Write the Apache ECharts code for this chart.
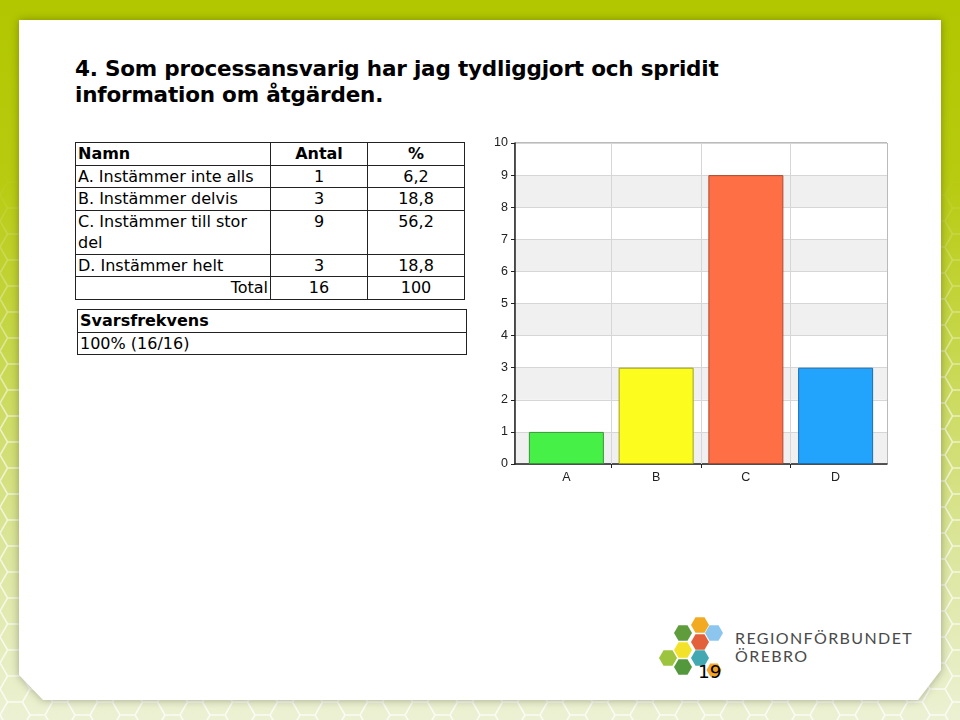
<!DOCTYPE html>
<html><head><meta charset="utf-8">
<script src="https://cdn.jsdelivr.net/npm/echarts@6/dist/echarts.min.js"></script>
<style>
html,body{margin:0;padding:0;width:960px;height:720px;overflow:hidden;}
#bg{position:absolute;left:0;top:0;width:960px;height:720px;
 background:linear-gradient(180deg,#b2c700 0%,#b8cb10 25%,#c8d850 50%,#dbe598 75%,#ecf1d4 100%);}
#pat{position:absolute;left:0;top:0;width:960px;height:720px;
 background:url("data:image/svg+xml;utf8,<svg xmlns='http://www.w3.org/2000/svg' width='45' height='26'><path d='M0 13 L7.5 0 L22.5 0 L30 13 L22.5 26 L7.5 26 Z M30 13 L45 13' fill='none' stroke='white' stroke-opacity='0.75' stroke-width='1.6'/></svg>");
 -webkit-mask-image:linear-gradient(180deg,transparent 0px,transparent 170px,rgba(0,0,0,0.8) 420px,#000 720px);
 mask-image:linear-gradient(180deg,transparent 0px,transparent 170px,rgba(0,0,0,0.8) 420px,#000 720px);}
#shadow{position:absolute;left:0;top:0;width:960px;height:720px;filter:drop-shadow(0 0 4px rgba(0,0,0,0.3));}
#panel{position:absolute;left:0;top:0;width:960px;height:720px;background:#fff;
 clip-path:polygon(19px 20px,941px 20px,941px 670px,918px 700px,43px 700px,19px 675px);}
#title{position:absolute;left:75px;top:56px;font-family:"DejaVu Sans",sans-serif;font-weight:bold;font-size:21.5px;line-height:26px;color:#000;letter-spacing:-0.2px;}
table{border-collapse:collapse;font-family:"DejaVu Sans",Verdana,sans-serif;font-size:16px;color:#000;position:absolute;}
td{border:1.5px solid #222;padding:0 2px;line-height:21.5px;vertical-align:top;}
#t1{left:75px;top:142px;width:390px;}
#t2{left:77px;top:309px;width:390px;}
#logo{position:absolute;left:655px;top:612px;}
#lt{position:absolute;left:735px;top:629px;font-family:Lato,"Open Sans",sans-serif;font-size:16px;letter-spacing:1.4px;color:#4a4a4a;line-height:18px;}
#pg{position:absolute;left:698px;top:661px;font-family:"DejaVu Sans",sans-serif;font-size:18.5px;color:#000;}
#chart{position:absolute;left:480px;top:130px;width:420px;height:360px;}
</style></head>
<body>
<div id="bg"></div>
<div id="pat"></div>
<div id="shadow"><div id="panel"></div></div>
<div id="title">4. Som processansvarig har jag tydliggjort och spridit<br>information om åtgärden.</div>
<table id="t1"></table>
<table id="t2"><tr><td style="font-weight:bold">Svarsfrekvens</td></tr><tr><td>100% (16/16)</td></tr></table>
<svg id="logo" width="80" height="72"></svg>
<div id="lt">REGIONFÖRBUNDET<br>ÖREBRO</div>
<div id="pg">19</div>
<div id="chart"></div>
<script>
// ---- data ----
const categories = ['A','B','C','D'];
const names = ['A. Instämmer inte alls','B. Instämmer delvis','C. Instämmer till stor<br>del','D. Instämmer helt'];
const counts = [1,3,9,3];
const percents = ['6,2','18,8','56,2','18,8'];
const totalCount = 16;
const totalPercent = '100';
const barColors = ['#46f046','#fcfc1e','#ff6f45','#22a4fc'];
const barBorders = ['#3a963a','#a0a020','#b04a2e','#1c6eb0'];

// ---- table ----
const t1 = document.getElementById('t1');
let html = '<tr><td style="font-weight:bold;width:190px">Namn</td><td style="font-weight:bold;text-align:center;width:92px">Antal</td><td style="font-weight:bold;text-align:center">%</td></tr>';
names.forEach((n,i)=>{
  html += '<tr><td>'+n+'</td><td style="text-align:center">'+counts[i]+'</td><td style="text-align:center">'+percents[i]+'</td></tr>';
});
html += '<tr><td style="text-align:right">Total</td><td style="text-align:center">'+totalCount+'</td><td style="text-align:center">'+totalPercent+'</td></tr>';
t1.innerHTML = html;

// ---- logo hexagons ----
const hexes = [[45,13,9,'#f2aa22'],[59,21,9,'#8cc6ef'],[28,21,9,'#5f9d3c'],[45,30,9,'#e2603a'],[28,38,9,'#f2e22a'],[45,46,9,'#44a8b2'],[13,46,9,'#9cc43e'],[28,55,9,'#53983c'],[59,58,7.5,'#f2a628']];
const svg = document.getElementById('logo');
let s='';
hexes.forEach(([cx,cy,r,c])=>{
  const h=r*0.866;
  const pts=[[cx-r,cy],[cx-r/2,cy-h],[cx+r/2,cy-h],[cx+r,cy],[cx+r/2,cy+h],[cx-r/2,cy+h]].map(p=>p.join(',')).join(' ');
  s+='<polygon points="'+pts+'" fill="'+c+'"/>';
});
svg.innerHTML=s;

// ---- chart ----
const idx = categories.map((c,i)=>i);
const bounds = idx.slice(0,-1).map(i=>i+0.5);
const pad = 0.0725;
const chart = echarts.init(document.getElementById('chart'));
chart.setOption({
  animation:false,
  grid:{left:35,top:13,width:372,height:321,show:true,borderColor:'#777',borderWidth:1},
  xAxis:{type:'value',min:-0.5-pad,max:categories.length-0.5+pad,
    axisLine:{show:true,onZero:false,lineStyle:{color:'#222',width:1.5}},
    axisTick:{show:true,length:4,customValues:bounds,lineStyle:{color:'#222'}},
    axisLabel:{show:true,customValues:idx,formatter:v=>categories[Math.round(v)],color:'#222',fontSize:12.5,fontFamily:'Arial, Liberation Sans',margin:7},
    splitLine:{show:false}},
  yAxis:{type:'value',min:0,max:10,interval:1,
    axisLine:{show:true,onZero:false,lineStyle:{color:'#222',width:1.5}},
    axisTick:{show:true,length:4,lineStyle:{color:'#222'}},
    axisLabel:{color:'#222',fontSize:12.5,fontFamily:'Arial, Liberation Sans',margin:7},
    splitLine:{show:true,lineStyle:{color:'#d6d6d6'}},
    splitArea:{show:true,areaStyle:{color:['#f0f0f0','#ffffff']}}},
  series:[{type:'bar',barWidth:75,
    data:counts.map((v,i)=>({value:[idx[i],v],itemStyle:{color:barColors[i],borderColor:barBorders[i],borderWidth:1}})),
    markLine:{silent:true,symbol:'none',label:{show:false},
      lineStyle:{color:'#d6d6d6',type:'solid',width:1},
      data:bounds.map(b=>({xAxis:b}))}}]
});
</script>
</body></html>
